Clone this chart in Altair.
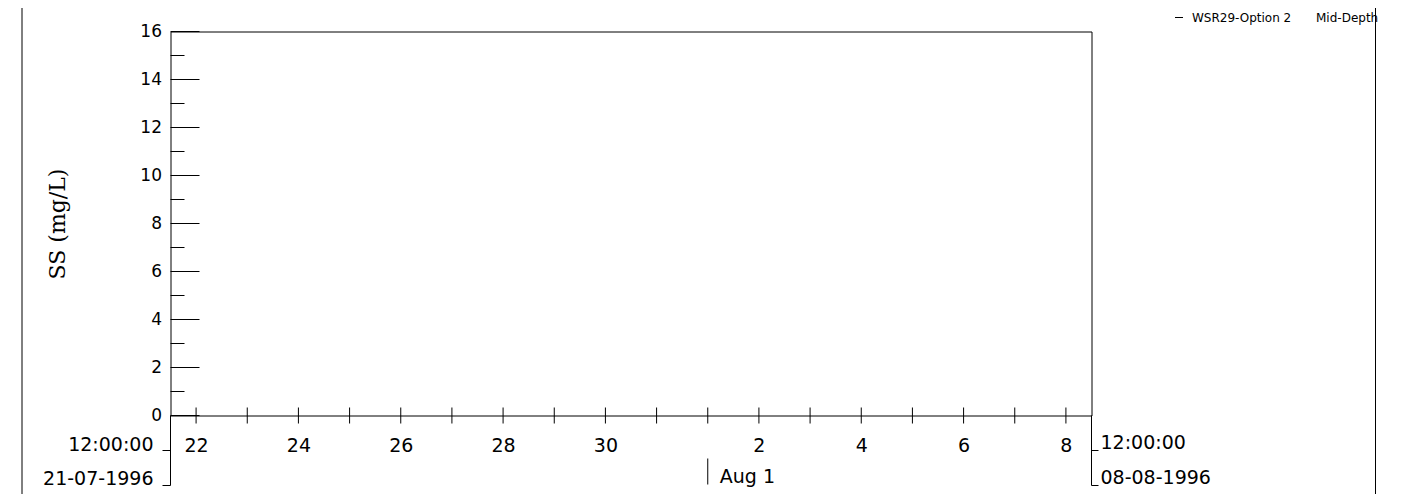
import altair as alt
import pandas as pd

# ---------------- data ----------------
y_major = [0, 2, 4, 6, 8, 10, 12, 14, 16]
y_minor = [1, 3, 5, 7, 9, 11, 13, 15]
y_title = "SS (mg/L)"

day_ticks = [
    "1996-07-22", "1996-07-23", "1996-07-24", "1996-07-25", "1996-07-26",
    "1996-07-27", "1996-07-28", "1996-07-29", "1996-07-30", "1996-07-31",
    "1996-08-01", "1996-08-02", "1996-08-03", "1996-08-04", "1996-08-05",
    "1996-08-06", "1996-08-07", "1996-08-08",
]
day_labels = [
    "1996-07-22", "1996-07-24", "1996-07-26", "1996-07-28", "1996-07-30",
    "1996-08-02", "1996-08-04", "1996-08-06", "1996-08-08",
]
x_start = "1996-07-21T12:00:00Z"
x_end = "1996-08-08T12:00:00Z"
start_text = ["12:00:00", "21-07-1996"]
end_text = ["12:00:00", "08-08-1996"]
month_date = "1996-08-01"
month_text = "Aug 1"
series_name = "WSR29-Option 2"
series_depth = "Mid-Depth"

# ---------------- styling ----------------
FONT = "DejaVu Sans"
W, H = 921, 384


def dt(s):
    t = pd.Timestamp(s)
    return alt.DateTime(year=t.year, month=t.month, date=t.day,
                        hours=t.hour, utc=True)


xscale = alt.Scale(type="utc", domain=[dt(x_start), dt(x_end)], nice=False)
yscale = alt.Scale(domain=[0, 16], nice=False, zero=False)

x_axis = alt.Axis(
    values=[dt(s) for s in day_labels],
    labelExpr="utcFormat(datum.value, '%-d')",
    ticks=False, tickSize=0, domain=False, grid=False,
    labelFont=FONT, labelFontSize=19, labelColor="black",
    labelPadding=30, labelBaseline="middle", labelFlush=False,
    labelOverlap=False, title=None,
)
y_axis = alt.Axis(
    values=y_major, ticks=False, tickSize=0, domain=False, grid=False,
    labelFont=FONT, labelFontSize=17, labelColor="black", labelPadding=9,
    labelFlush=False, labelOverlap=False,
    title=y_title, titleFont="DejaVu Serif", titleFontSize=22,
    titleFontWeight="normal", titleColor="black",
    titleX=-113, titleY=192, titleAngle=270, titleAlign="center",
    titleBaseline="middle",
)

one = pd.DataFrame({"k": [0]})


def prule(x, x2, y, y2=None, color="black"):
    enc = dict(x=alt.value(x), y=alt.value(y))
    if x2 is not None:
        enc["x2"] = alt.value(x2)
    if y2 is not None:
        enc["y2"] = alt.value(y2)
    return alt.Chart(one).mark_rule(color=color, strokeWidth=1).encode(**enc)


def date_text(date, label, dx, y, align, size=19):
    return alt.Chart(pd.DataFrame({"d": [date], "t": [label]})).mark_text(
        align=align, baseline="middle", dx=dx, font=FONT, fontSize=size,
        color="black",
    ).encode(x=alt.X("d:T", scale=xscale, axis=x_axis), y=alt.value(y),
             text="t:N")


def px_text(label, x, y, size=12):
    return alt.Chart(pd.DataFrame({"t": [label]})).mark_text(
        align="left", baseline="middle", font=FONT, fontSize=size,
        color="black",
    ).encode(x=alt.value(x), y=alt.value(y), text="t:N")


# y ticks (drawn inward)
y_major_ticks = alt.Chart(pd.DataFrame({"v": y_major})).mark_rule(
    color="black", strokeWidth=1
).encode(y=alt.Y("v:Q", scale=yscale, axis=y_axis),
         x=alt.value(0), x2=alt.value(29))
y_minor_ticks = alt.Chart(pd.DataFrame({"v": y_minor})).mark_rule(
    color="black", strokeWidth=1
).encode(y=alt.Y("v:Q", scale=yscale, axis=y_axis),
         x=alt.value(0), x2=alt.value(14))

# x ticks crossing the axis
x_ticks = alt.Chart(pd.DataFrame({"d": day_ticks})).mark_rule(
    color="black", strokeWidth=1
).encode(x=alt.X("d:T", scale=xscale, axis=x_axis),
         y=alt.value(H - 8), y2=alt.value(H + 8))

# bracket verticals at start / end of the time axis
ends = alt.Chart(pd.DataFrame({"d": [x_start, x_end]})).mark_rule(
    color="black", strokeWidth=1
).encode(x=alt.X("d:T", scale=xscale, axis=x_axis),
         y=alt.value(H), y2=alt.value(H + 70))

# month marker
month_bar = alt.Chart(pd.DataFrame({"d": [month_date]})).mark_rule(
    color="black", strokeWidth=1
).encode(x=alt.X("d:T", scale=xscale, axis=x_axis),
         y=alt.value(H + 43), y2=alt.value(H + 69))

layers = [
    y_major_ticks, y_minor_ticks, x_ticks, ends, month_bar,
    prule(-8, 0, H + 35), prule(-8, 0, H + 70),
    prule(W, W + 7, H + 35), prule(W, W + 7, H + 70),
    date_text(x_start, start_text[0], -17, H + 29, "right"),
    date_text(x_start, start_text[1], -17, H + 63, "right"),
    date_text(x_end, end_text[0], 9, H + 27, "left"),
    date_text(x_end, end_text[1], 9, H + 62, "left"),
    date_text(month_date, month_text, 12, H + 61, "left"),
    # page frame lines
    prule(-148.5, None, -40, H + 120),
    prule(1205, None, -40, H + 120),
    # legend
    prule(1004.5, 1012.5, -14),
    px_text(series_name, 1021.5, -14),
    px_text(series_depth, 1145.5, -14),
]

chart = alt.layer(*layers).properties(
    width=W, height=H,
    autosize=alt.AutoSizeParams(type="none"),
    padding={"left": 162.5, "top": 23.5, "right": 300.5, "bottom": 78.5},
    background="white",
).configure_view(stroke="black", strokeWidth=1)

chart.save("out.html", embed_options={"renderer": "svg", "actions": False})
